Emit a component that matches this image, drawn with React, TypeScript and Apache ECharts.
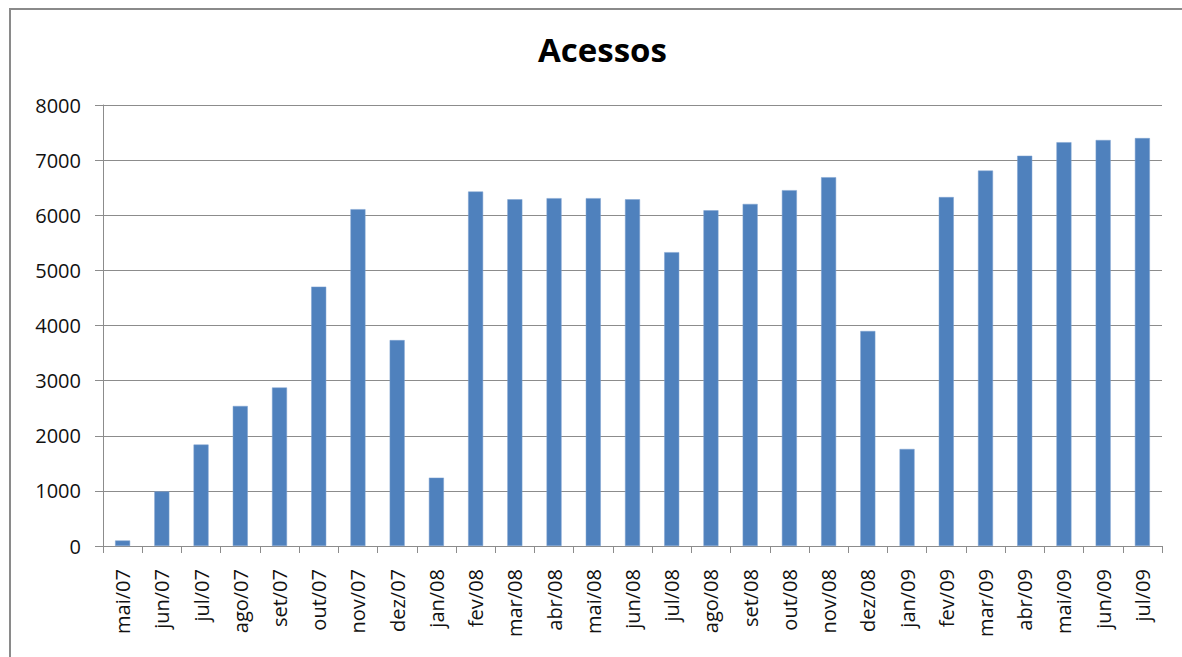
import React, { useEffect, useRef } from "react";
import * as echarts from "echarts";

const categories = [
  "mai/07", "jun/07", "jul/07", "ago/07", "set/07", "out/07", "nov/07", "dez/07", "jan/08",
  "fev/08", "mar/08", "abr/08", "mai/08", "jun/08", "jul/08", "ago/08", "set/08", "out/08",
  "nov/08", "dez/08", "jan/09", "fev/09", "mar/09", "abr/09", "mai/09", "jun/09", "jul/09",
];
const acessos = [
  100, 990, 1840, 2540, 2875, 4705, 6110, 3735, 1240,
  6430, 6290, 6310, 6310, 6290, 5330, 6090, 6205, 6455,
  6690, 3900, 1760, 6330, 6810, 7080, 7325, 7365, 7400,
];
const yTicks = { min: 0, max: 8000, interval: 1000 };

export default function App() {
  const ref = useRef<HTMLDivElement>(null);
  useEffect(() => {
    if (!ref.current) return;
    const chart = echarts.init(ref.current, null, { renderer: "svg" });
    const font = "'Open Sans', Calibri, sans-serif";
    chart.setOption({
      animation: false,
      backgroundColor: "#ffffff",
      title: {
        text: "Acessos",
        left: 533,
        top: 28,
        textStyle: { fontFamily: font, fontWeight: "bold", fontSize: 33, color: "#000" },
      },
      graphic: [
        {
          type: "rect",
          shape: { x: 10, y: 9, width: 1190, height: 670 },
          style: { fill: "none", stroke: "#8a8a8a", lineWidth: 2 },
          silent: true,
        },
      ],
      grid: { left: 103, right: 20, top: 105, bottom: 111, containLabel: false },
      xAxis: {
        type: "category",
        data: categories,
        boundaryGap: true,
        axisLine: { show: true, lineStyle: { color: "#8c8c8c", width: 1 } },
        axisTick: { show: true, interval: 0, length: 7, lineStyle: { color: "#8c8c8c" } },
        axisLabel: {
          interval: 0,
          rotate: 90,
          margin: 23,
          fontSize: 20,
          fontFamily: font,
          color: "#111",
        },
      },
      yAxis: {
        type: "value",
        min: yTicks.min,
        max: yTicks.max,
        interval: yTicks.interval,
        axisLine: { show: true, lineStyle: { color: "#8c8c8c", width: 1 } },
        axisTick: { show: true, length: 8, lineStyle: { color: "#8c8c8c" } },
        splitLine: { show: true, lineStyle: { color: "#8c8c8c", width: 1 } },
        axisLabel: {
          fontSize: 20,
          fontFamily: font,
          color: "#111",
          margin: 22,
          formatter: (v: number) => String(v),
        },
      },
      series: [
        {
          type: "bar",
          data: acessos,
          barWidth: 15,
          itemStyle: { color: "#4F81BD", borderColor: "#7fa3d1", borderWidth: 0.5 },
        },
      ],
    });
    return () => chart.dispose();
  }, []);
  return (
    <div
      ref={ref}
      style={{ position: "fixed", left: 0, top: 0, width: 1182, height: 657 }}
    />
  );
}
